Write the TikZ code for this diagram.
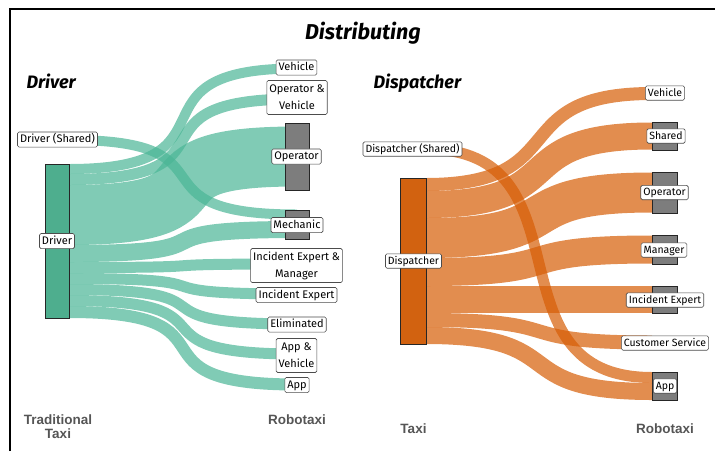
\documentclass[tikz,border=0pt]{standalone}
\usepackage{fontspec}
\setmainfont{Fira Sans}
\newfontfamily\axisfont{Liberation Sans}
\definecolor{drvflow}{RGB}{74,181,149}
\definecolor{drvfill}{RGB}{78,174,142}
\definecolor{dspflow}{RGB}{214,92,4}
\definecolor{dspfill}{RGB}{210,98,16}
\definecolor{robofill}{RGB}{125,125,125}
\definecolor{axisgray}{RGB}{85,85,85}

\begin{document}
\begin{tikzpicture}[
            x=1pt, y=-1pt,
            tflow/.style={draw=drvflow, draw opacity=0.7, line width=#1pt},
            oflow/.style={draw=dspflow, draw opacity=0.7, line width=#1pt},
            bar/.style={draw=black!85, line width=0.9pt, inner sep=0pt, outer sep=0pt},
            lbl/.style={
                draw=black!70, fill=white, rounded corners=1.5pt, line width=0.6pt,
                inner xsep=2.5pt, inner ysep=1.8pt, align=center,
                text height=9pt, text depth=2.5pt, font=\fontsize{11}{17}\selectfont,
            },
            lbltwo/.style={lbl, text height=, text depth=, minimum height=34pt},
            lblr/.style={lbl, text height=8.5pt, text depth=2.3pt, font=\fontsize{10.5}{14}\selectfont},
            axislbl/.style={font=\axisfont\bfseries\fontsize{13.5}{14}\selectfont, text=axisgray, align=center},
        ]
        \useasboundingbox (0,0) rectangle (715,451);
        \draw[line width=2pt] (10,451) -- (10,8.5) -- (715,8.5);

        % titles
        \node[font=\bfseries\itshape\fontsize{21.5}{24}\selectfont, anchor=base] (title) at (363,39.5) {Distributing};
        \node[font=\bfseries\itshape\fontsize{18}{22}\selectfont, anchor=base west] (drvTitle) at (23,88) {Driver};
        \node[font=\bfseries\itshape\fontsize{18}{22}\selectfont, anchor=base west] (dspTitle) at (370,88) {Dispatcher};

        % driver side
        \coordinate (dShared) at (69,140);
        \coordinate (dVeh) at (69,169);
        \coordinate (dOpVeh) at (69,179.5);
        \coordinate (dOp) at (69,215);
        \coordinate (dMech) at (69,253.5);
        \coordinate (dIEMan) at (69,267.5);
        \coordinate (dIE) at (69,278.5);
        \coordinate (dElim) at (69,289.5);
        \coordinate (dAppVeh) at (69,300.5);
        \coordinate (dApp) at (69,312);

        \coordinate (rVeh) at (297,68.5);
        \coordinate (rOpVeh) at (297,99);
        \coordinate (rOp) at (297,156.5);
        \coordinate (rMechSh) at (297,214.5);
        \coordinate (rMech) at (297,229.5);
        \coordinate (rIEMan) at (297,264);
        \coordinate (rIE) at (297,294);
        \coordinate (rElim) at (297,324);
        \coordinate (rAppVeh) at (297,354);
        \coordinate (rApp) at (297,384.5);

        \draw[tflow=10] (dVeh) .. controls +(180,0) and +(-180,0) .. (rVeh);
        \draw[tflow=11] (dOpVeh) .. controls +(180,0) and +(-180,0) .. (rOpVeh);
        \draw[tflow=60] (dOp) .. controls +(180,0) and +(-180,0) .. (rOp);
        \draw[tflow=17] (dMech) .. controls +(180,0) and +(-180,0) .. (rMech);
        \draw[tflow=11] (dIEMan) .. controls +(180,0) and +(-180,0) .. (rIEMan);
        \draw[tflow=11] (dIE) .. controls +(180,0) and +(-180,0) .. (rIE);
        \draw[tflow=11] (dElim) .. controls +(180,0) and +(-180,0) .. (rElim);
        \draw[tflow=11] (dAppVeh) .. controls +(180,0) and +(-180,0) .. (rAppVeh);
        \draw[tflow=12] (dApp) .. controls +(180,0) and +(-180,0) .. (rApp);
        \draw[tflow=10] (dShared) .. controls +(175,0) and +(-175,0) .. (rMechSh);

        \node[bar, fill=drvfill, minimum width=24pt, minimum height=154pt] (drv) at (57,241) {};
        \node[bar, fill=robofill, minimum width=24pt, minimum height=67pt] (lOpBar) at (297,156.5) {};
        \node[bar, fill=robofill, minimum width=24pt, minimum height=29pt] (lMechBar) at (297,224.5) {};

        \node[lbl] (drvSh) at (57.5,139.5) {Driver (Shared)};
        \node[lbl] (drvLbl) at (57,241) {Driver};
        \node[lbl] (lVeh) at (296.5,67.5) {Vehicle};
        \node[lbltwo] (lOpVeh) at (297,97.5) {Operator \&\\Vehicle};
        \node[lbl] (lOp) at (296.5,156.5) {Operator};
        \node[lbl] (lMech) at (297,225) {Mechanic};
        \node[lbltwo] (lIEMan) at (296.5,265.5) {Incident Expert \&\\Manager};
        \node[lbl] (lIE) at (296.5,295) {Incident Expert};
        \node[lbl] (lElim) at (297,324.5) {Eliminated};
        \node[lbltwo] (lAppVeh) at (296.5,355.5) {App \&\\Vehicle};
        \node[lbl] (lApp) at (297,385) {App};

        % dispatcher side
        \coordinate (pShared) at (426,149);
        \coordinate (pVeh) at (426,184.5);
        \coordinate (pSh) at (426,204.5);
        \coordinate (pOp) at (426,238);
        \coordinate (pMan) at (426,272);
        \coordinate (pIE) at (426,299.5);
        \coordinate (pCS) at (426,320);
        \coordinate (pApp) at (426,335.5);

        \coordinate (qVeh) at (652,93.5);
        \coordinate (qSh) at (652,136);
        \coordinate (qOp) at (652,192.5);
        \coordinate (qMan) at (652,249.5);
        \coordinate (qIE) at (652,299.5);
        \coordinate (qCS) at (652,342.5);
        \coordinate (qAppSh) at (652,377.5);
        \coordinate (qApp) at (652,391.5);

        \draw[oflow=13] (pVeh) .. controls +(150,0) and +(-150,0) .. (qVeh);
        \draw[oflow=27] (pSh) .. controls +(150,0) and +(-150,0) .. (qSh);
        \draw[oflow=40] (pOp) .. controls +(150,0) and +(-150,0) .. (qOp);
        \draw[oflow=28] (pMan) .. controls +(150,0) and +(-150,0) .. (qMan);
        \draw[oflow=27] (pIE) .. controls +(150,0) and +(-150,0) .. (qIE);
        \draw[oflow=14] (pCS) .. controls +(150,0) and +(-150,0) .. (qCS);
        \draw[oflow=17] (pApp) .. controls +(150,0) and +(-150,0) .. (qApp);
        \draw[oflow=11] (pShared) .. controls +(169,0) and +(-169,0) .. (qAppSh);

        \node[bar, fill=dspfill, minimum width=26pt, minimum height=166pt] (dsp) at (413,261) {};
        \node[bar, fill=robofill, minimum width=25pt, minimum height=28pt] (rShBar) at (664.5,136) {};
        \node[bar, fill=robofill, minimum width=25pt, minimum height=41pt] (rOpBar) at (664.5,192.5) {};
        \node[bar, fill=robofill, minimum width=25pt, minimum height=29pt] (rManBar) at (664.5,249.5) {};
        \node[bar, fill=robofill, minimum width=25pt, minimum height=27pt] (rIEBar) at (664.5,299.5) {};
        \node[bar, fill=robofill, minimum width=25pt, minimum height=28pt] (rAppBar) at (664.5,386) {};

        \node[lblr] (dspSh) at (412.5,149) {Dispatcher (Shared)};
        \node[lblr] (dspLbl) at (413.5,261) {Dispatcher};
        \node[lblr] (rVeh) at (665,93) {Vehicle};
        \node[lblr] (rSh) at (666,136) {Shared};
        \node[lblr] (rOp) at (664.5,192.5) {Operator};
        \node[lblr] (rMan) at (664,250) {Manager};
        \node[lblr] (rIE) at (665,300) {Incident Expert};
        \node[lblr] (rCS) at (665,343) {Customer Service};
        \node[lblr] (rApp) at (665,386) {App};

        % axis names
        \node[axislbl] (lTaxi) at (58,427) {Traditional\\Taxi};
        \node[axislbl] (lRobo) at (297,420) {Robotaxi};
        \node[axislbl] (rTaxi) at (413.5,429) {Taxi};
        \node[axislbl] (rRobo) at (665,429) {Robotaxi};
    \end{tikzpicture}
\end{document}
